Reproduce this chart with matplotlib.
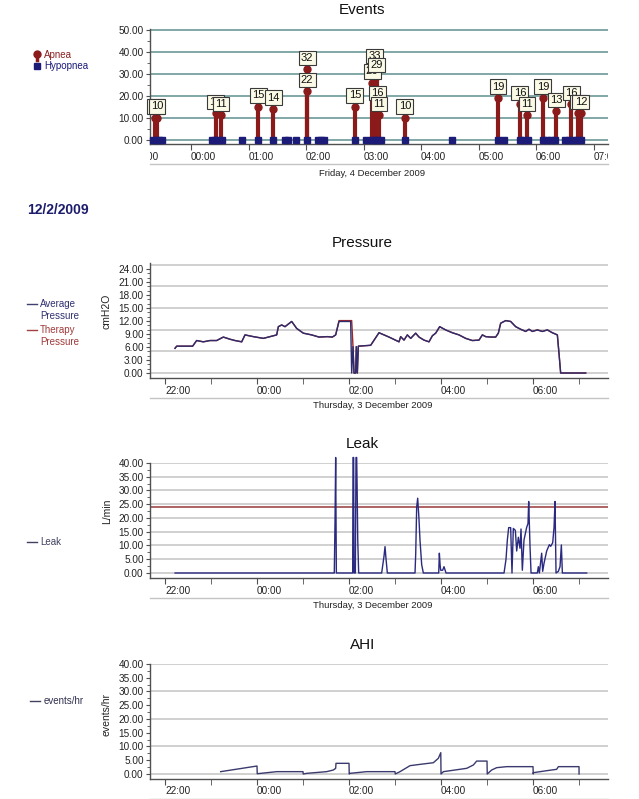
import matplotlib
matplotlib.use("Agg")
import matplotlib.pyplot as plt
from matplotlib.lines import Line2D
from matplotlib.transforms import Bbox, TransformedBbox, blended_transform_factory
import numpy as np

plt.rcParams['font.family'] = ['Liberation Sans', 'DejaVu Sans']

# ---------------- data (hours relative to midnight) ----------------
apnea_t = [-0.62, -0.59, 0.43, 0.52, 1.17, 1.43, 2.02, 2.02, 2.85,
           3.15, 3.19, 3.23, 3.24, 3.27, 3.72, 5.34, 5.72, 5.84,
           6.12, 6.35, 6.61, 6.73, 6.78]
apnea_v = [10, 10, 12, 11, 15, 14, 32, 22, 15,
           26, 33, 29, 16, 11, 10, 19, 16, 11,
           19, 13, 16, 12, 12]
hypop_t = [-0.66, -0.61, -0.56, -0.50, 0.37, 0.42, 0.47, 0.54, 0.89, 1.17,
           1.43, 1.63, 1.69, 1.83, 2.02, 2.21, 2.26, 2.31, 2.85, 3.04,
           3.15, 3.20, 3.25, 3.30, 3.72, 4.54, 5.34, 5.44, 5.72, 5.79,
           5.86, 6.12, 6.19, 6.26, 6.33, 6.50, 6.57, 6.64, 6.71, 6.78]
hypop_v = [0] * len(hypop_t)

press_t = [-1.783, -1.746, -1.399, -1.312, -1.167, -1.022, -0.877, -0.732, -0.587,
           -0.478, -0.333, -0.261, -0.080, 0.138, 0.283, 0.428, 0.464, 0.536,
           0.609, 0.681, 0.754, 0.862, 1.007, 1.188, 1.348, 1.529, 1.638, 1.710,
           1.783, 2.036, 2.058, 2.087, 2.109, 2.145, 2.159, 2.181, 2.203, 2.471,
           2.652, 2.870, 3.087, 3.123, 3.196, 3.268, 3.341, 3.449, 3.522, 3.630,
           3.739, 3.812, 3.884, 3.971, 4.101, 4.246, 4.391, 4.536, 4.681, 4.826,
           4.899, 4.971, 5.080, 5.188, 5.246, 5.297, 5.406, 5.514, 5.623, 5.732,
           5.841, 5.913, 5.986, 6.094, 6.203, 6.312, 6.420, 6.529, 6.565, 6.601,
           7.145]
press_avg = [5.7, 6.2, 6.2, 7.5, 7.2, 7.5, 7.5, 8.3, 7.8,
             7.5, 7.2, 8.8, 8.4, 8.0, 8.4, 8.8, 10.7, 11.1,
             10.7, 11.3, 11.9, 10.3, 9.2, 8.8, 8.3, 8.4, 8.3, 8.8,
             11.9, 11.9, 0.0, 6.1, 0.0, 0.0, 6.1, 0.0, 6.2, 6.4,
             9.3, 8.3, 7.2, 8.4, 7.6, 8.8, 8.0, 9.2, 8.3, 7.6,
             7.2, 8.6, 9.2, 10.7, 9.95, 9.3, 8.8, 8.0, 7.5, 7.6,
             8.8, 8.4, 8.3, 8.3, 9.2, 11.5, 12.1, 11.9, 10.7, 10.1,
             9.6, 10.1, 9.6, 9.95, 9.6, 9.95, 9.3, 8.8, 4.5, 0.0,
             0.0]
press_ther = [5.7, 6.2, 6.2, 7.5, 7.2, 7.5, 7.5, 8.3, 7.8,
              7.5, 7.2, 8.8, 8.4, 8.0, 8.4, 8.8, 10.7, 11.1,
              10.7, 11.3, 11.9, 10.3, 9.2, 8.8, 8.3, 8.4, 8.3, 8.8,
              12.1, 12.1, 12.1, 6.1, 0.0, 0.0, 6.1, 0.0, 6.2, 6.4,
              9.3, 8.3, 7.2, 8.4, 7.6, 8.8, 8.0, 9.2, 8.3, 7.6,
              7.2, 8.6, 9.2, 10.7, 9.95, 9.3, 8.8, 8.0, 7.5, 7.6,
              8.8, 8.4, 8.3, 8.3, 9.2, 11.5, 12.1, 11.9, 10.7, 10.1,
              9.6, 10.1, 9.6, 9.95, 9.6, 9.95, 9.3, 8.8, 4.5, 0.0,
              0.0]

leak_t = [-1.78, 1.68, 1.696, 1.71, 1.725, 2.08, 2.087, 2.101, 2.109, 2.138,
          2.152, 2.167, 2.175, 2.19, 2.21, 2.71, 2.76, 2.783, 2.80, 2.833,
          3.435, 3.45, 3.471, 3.493, 3.52, 3.543, 3.58, 3.616, 3.95, 3.964,
          3.98, 3.993, 4.036, 4.065, 4.109, 5.370, 5.413, 5.442, 5.471, 5.514,
          5.543, 5.572, 5.616, 5.645, 5.681, 5.717, 5.739, 5.768, 5.804, 5.862,
          5.891, 5.906, 5.935, 5.957, 6.094, 6.116, 6.138, 6.188, 6.210, 6.239,
          6.297, 6.355, 6.384, 6.428, 6.457, 6.478, 6.500, 6.551, 6.587, 6.616,
          6.638, 7.167]
leak_v = [0, 0, 18.7, 42, 0, 0, 42, 42, 0, 0,
          42, 42, 33, 12, 0, 0, 6, 9.6, 6, 0,
          0, 7, 24, 27.2, 20, 12, 3, 0, 0, 7.2,
          3, 1, 1, 2.3, 0, 0, 5, 12, 16.5, 16.5,
          0, 16.2, 15.5, 8, 13, 9, 16, 1, 12, 16.6,
          18, 26, 9.6, 0, 0, 2.3, 0, 7.2, 0.6, 3.5,
          8, 10.3, 9.7, 11, 16.6, 26, 0, 0.6, 2.3, 10.2,
          0, 0]
leak_threshold = 24

ahi_t = [-0.79, 0.0, 0.005, 0.43, 1.0, 1.005, 1.08, 1.514, 1.659, 1.71,
         1.717, 2.0, 2.005, 2.022, 2.384, 3.0, 3.005, 3.109, 3.326, 3.543,
         3.833, 3.942, 3.995, 4.0, 4.051, 4.558, 4.703, 4.775, 5.0, 5.005,
         5.101, 5.21, 5.428, 6.0, 6.005, 6.007, 6.297, 6.514, 6.551, 7.0, 7.001]
ahi_v = [0.85, 2.9, 0.1, 0.85, 0.85, 0.0, 0.24, 0.85, 1.45, 2.06,
         3.88, 3.88, 0.0, 0.24, 0.85, 0.85, 0.0, 0.85, 3.03, 3.5,
         4.1, 5.7, 7.76, 0.0, 0.85, 2.06, 3.27, 4.7, 4.7, 0.0,
         1.45, 2.3, 2.67, 2.67, 0.0, 0.48, 1.2, 1.7, 2.67, 2.67, 0.0]

# ---------------- styling ----------------
W, H = 639, 799
fig = plt.figure(figsize=(W / 100, H / 100), dpi=100)
fig.patch.set_facecolor('white')

RED = '#8b1a1a'
NAVY = '#1c1c78'
LINE_NAVY = '#2c2c6e'
SPINE = '#505050'
TXT = '#222222'


def add_ax(left, top, right, bottom):
    return fig.add_axes([left / W, 1 - bottom / H, (right - left) / W, (bottom - top) / H])


def style_ax(ax, xlim, ylim, yticks, yminor, grid_vals, grid_color, xmajor, xminor,
             label_hours):
    ax.set_xlim(*xlim)
    ax.set_ylim(*ylim)
    for s in ['top', 'right']:
        ax.spines[s].set_visible(False)
    for s in ['left', 'bottom']:
        ax.spines[s].set_color(SPINE)
        ax.spines[s].set_linewidth(1.0)
    ax.set_yticks(yticks)
    ax.set_yticks(yminor, minor=True)
    ax.set_yticklabels(['%.2f' % v for v in yticks])
    ax.tick_params(axis='y', which='major', labelsize=7.2, pad=1.5, length=3,
                   color=SPINE, labelcolor=TXT)
    ax.tick_params(axis='y', which='minor', length=2, color=SPINE)
    ax.set_xticks(xmajor)
    ax.set_xticks(xminor, minor=True)
    ax.set_xticklabels([])
    ax.tick_params(axis='x', which='both', length=4, color=SPINE)
    for g in grid_vals:
        ax.axhline(g, color=grid_color, lw=1.1, zorder=0.5)
    tr = blended_transform_factory(ax.transData, ax.transAxes)
    hpx = ax.get_position().height * H
    clipbox = TransformedBbox(Bbox([[0, -1], [1, 0]]), ax.transAxes)
    for h in label_hours:
        t = ax.text(h, -12.5 / hpx, '%02d:00' % (h % 24),
                    transform=tr, ha='left', va='center', fontsize=7.2, color=TXT)
        t.set_clip_on(True)
        t.set_clip_box(clipbox)
    ax.plot([0, 1], [-19.5 / hpx] * 2, transform=ax.transAxes, color='#c4c4c4',
            lw=1.0, clip_on=False)


def title(x, y, s):
    fig.text(x / W, 1 - y / H, s, ha='center', va='center', fontsize=11, color='#111111')


# ---------------- Events ----------------
axE = add_ax(150, 29, 608, 144)
style_ax(axE, (-0.713, 7.252), (-2.05, 50.46), [0, 10, 20, 30, 40, 50],
         [5, 15, 25, 35, 45], [0, 10, 20, 30, 40, 50], '#5f9090',
         list(range(0, 8)), [], list(range(-1, 8)))
axE.vlines(apnea_t, 0, apnea_v, color=RED, lw=3, zorder=3)
axE.plot(apnea_t, apnea_v, 'o', color=RED, ms=5, zorder=4)
for i, (t, v) in enumerate(zip(apnea_t, apnea_v)):
    axE.annotate(str(v), (t, v), xytext=(0, 4.5), textcoords='offset points',
                 ha='center', va='bottom', fontsize=8, color='#111111', zorder=5 + i,
                 bbox=dict(boxstyle='square,pad=0.2', fc='#fafae6', ec='#3a3a3a', lw=0.8),
                 annotation_clip=False)
axE.plot(hypop_t, hypop_v, 's', color=NAVY, ms=3.8, zorder=40, clip_on=False)
title(362, 10, 'Events')
fig.text(372 / W, 1 - 173 / H, 'Friday, 4 December 2009', ha='center', va='center',
         fontsize=6.8, color=TXT)

# events legend
fig.add_artist(Line2D([37 / W, 37 / W], [1 - 60 / H, 1 - 53 / H], color=RED, lw=2.5,
                      transform=fig.transFigure))
fig.add_artist(Line2D([37 / W], [1 - 53.5 / H], marker='o', ms=5, color=RED,
                      transform=fig.transFigure))
fig.text(44 / W, 1 - 55.5 / H, 'Apnea', fontsize=7, color='#8b2020', va='center')
fig.add_artist(Line2D([37 / W], [1 - 66 / H], marker='s', ms=5, color=NAVY,
                      transform=fig.transFigure))
fig.text(44 / W, 1 - 66 / H, 'Hypopnea', fontsize=7, color='#1a1a78', va='center')

fig.text(27 / W, 1 - 210 / H, '12/2/2009', fontsize=10, fontweight='bold',
         color='#1c1c6c', va='center', ha='left')

# ---------------- Pressure ----------------
xl = (-2.326, 7.63)
axP = add_ax(150, 263, 608, 378)
style_ax(axP, xl, (-1.15, 25.4), [0, 3, 6, 9, 12, 15, 18, 21, 24],
         [v for v in range(0, 25) if v % 3], [0, 5, 10, 15, 20, 25], '#c4c4c4',
         [-2, 0, 2, 4, 6], [-1, 1, 3, 5, 7], [-2, 0, 2, 4, 6])
axP.plot(press_t, press_ther, color='#a02828', lw=1.0, zorder=3)
axP.plot(press_t, press_avg, color=LINE_NAVY, lw=1.0, zorder=4)
title(362, 243, 'Pressure')
fig.text(107 / W, 1 - 311 / H, 'cmH2O', rotation=90, ha='center', va='center',
         fontsize=7.5, color=TXT)
fig.text(373 / W, 1 - 406 / H, 'Thursday, 3 December 2009', ha='center', va='center',
         fontsize=6.8, color=TXT)
fig.add_artist(Line2D([27 / W, 37 / W], [1 - 304 / H] * 2, color='#404070', lw=1,
                      transform=fig.transFigure))
fig.text(40 / W, 1 - 304 / H, 'Average', fontsize=7, color='#303070', va='center')
fig.text(40 / W, 1 - 316 / H, 'Pressure', fontsize=7, color='#303070', va='center')
fig.add_artist(Line2D([27 / W, 37 / W], [1 - 330 / H] * 2, color='#a04040', lw=1,
                      transform=fig.transFigure))
fig.text(40 / W, 1 - 330 / H, 'Therapy', fontsize=7, color='#a03a3a', va='center')
fig.text(40 / W, 1 - 342 / H, 'Pressure', fontsize=7, color='#a03a3a', va='center')

# ---------------- Leak ----------------
axL = add_ax(150, 463, 608, 578)
style_ax(axL, xl, (-1.82, 40), [0, 5, 10, 15, 20, 25, 30, 35, 40],
         list(np.arange(2.5, 40, 5)), [0, 5, 10, 15, 20, 25, 30, 35, 40], '#c4c4c4',
         [-2, 0, 2, 4, 6], [-1, 1, 3, 5, 7], [-2, 0, 2, 4, 6])
axL.axhline(leak_threshold, color='#a04848', lw=1.2, zorder=2)
axL.plot(leak_t, leak_v, color='#2a2a80', lw=1.0, zorder=3, clip_on=False)
title(362, 444, 'Leak')
fig.text(107 / W, 1 - 511 / H, 'L/min', rotation=90, ha='center', va='center',
         fontsize=7.5, color=TXT)
fig.text(373 / W, 1 - 606 / H, 'Thursday, 3 December 2009', ha='center', va='center',
         fontsize=6.8, color=TXT)
fig.add_artist(Line2D([27 / W, 37 / W], [1 - 542 / H] * 2, color='#404060', lw=1,
                      transform=fig.transFigure))
fig.text(40 / W, 1 - 542 / H, 'Leak', fontsize=7, color='#404060', va='center')

# ---------------- AHI ----------------
axA = add_ax(150, 664, 608, 779)
style_ax(axA, xl, (-1.82, 40), [0, 5, 10, 15, 20, 25, 30, 35, 40],
         list(np.arange(2.5, 40, 5)), [0, 10, 20, 30, 40], '#c4c4c4',
         [-2, 0, 2, 4, 6], [-1, 1, 3, 5, 7], [-2, 0, 2, 4, 6])
axA.plot(ahi_t, ahi_v, color='#3a3a6e', lw=1.0, zorder=3)
title(363, 645, 'AHI')
fig.text(107 / W, 1 - 715 / H, 'events/hr', rotation=90, ha='center', va='center',
         fontsize=7.5, color=TXT)
fig.add_artist(Line2D([30 / W, 40 / W], [1 - 701 / H] * 2, color='#404060', lw=1,
                      transform=fig.transFigure))
fig.text(44 / W, 1 - 701 / H, 'events/hr', fontsize=7, color='#303050', va='center')

fig.savefig('out.png', dpi=100, facecolor='white')
